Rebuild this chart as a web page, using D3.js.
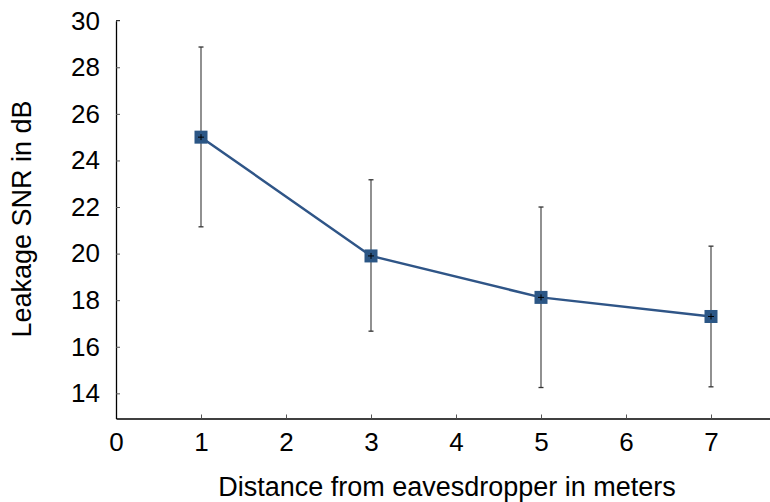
<!DOCTYPE html>
<html>
<head>
<meta charset="utf-8">
<script src="https://cdn.jsdelivr.net/npm/d3@7"></script>
<style>
  body { margin: 0; background: #fff; }
  svg { display: block; font-family: "Liberation Sans", Arial, sans-serif; }
</style>
</head>
<body>
<div class="canvas"></div>
<script>
// distance (m) vs leakage SNR (dB)
const distances = [1, 3, 5, 7];
const snrMean = [25.0, 19.9, 18.12, 17.3];
const snrUpper = [28.87, 23.17, 22.0, 20.32];
const snrLower = [21.15, 16.67, 14.25, 14.28];
const xTicks = [0, 1, 2, 3, 4, 5, 6, 7];
const yTicks = [14, 16, 18, 20, 22, 24, 26, 28, 30];

const width = 770;
const height = 502;

const svg = d3.select('.canvas')
  .append('svg')
  .attr('width', width)
  .attr('height', height);

const x = d3.scaleLinear()
  .domain([0, 7.7])
  .range([116, 770.5]);

const y = d3.scaleLinear()
  .domain([12.92, 30])
  .range([418.5, 20.7]);

const data = distances.map((d, i) => ({
  x: d, mean: snrMean[i], hi: snrUpper[i], lo: snrLower[i]
}));

// axes, ticks point inward
const xAxis = d3.axisBottom(x)
  .tickValues(xTicks)
  .tickSizeInner(-4)
  .tickSizeOuter(0)
  .tickPadding(14);

const yAxis = d3.axisLeft(y)
  .tickValues(yTicks)
  .tickSizeInner(-4)
  .tickSizeOuter(0)
  .tickPadding(16);

const xAxisGroup = svg.append('g')
  .attr('transform', `translate(0, ${y.range()[0]})`)
  .call(xAxis);

const yAxisGroup = svg.append('g')
  .attr('transform', `translate(${x.range()[0]}, 0)`)
  .call(yAxis);

// y axis line stops at top tick, plus a small cap
yAxisGroup.append('line')
  .attr('x1', 0).attr('x2', 4)
  .attr('y1', y(30)).attr('y2', y(30))
  .attr('stroke', '#000');

[xAxisGroup, yAxisGroup].forEach(g => {
  g.select('.domain').attr('stroke', '#000').attr('stroke-width', 1.3);
  g.selectAll('.tick line').attr('stroke', '#555');
  g.selectAll('text')
    .attr('font-size', 26)
    .attr('fill', '#000')
    .attr('font-family', '"Liberation Sans", Arial, sans-serif');
});
xAxisGroup.selectAll('.tick').filter(d => d === 0).select('line').remove();
yAxisGroup.selectAll('.tick').filter(d => d === 30).select('line').remove();

// axis titles
svg.append('text')
  .attr('x', 447)
  .attr('y', 496)
  .attr('text-anchor', 'middle')
  .attr('font-size', 27)
  .text('Distance from eavesdropper in meters');

svg.append('text')
  .attr('transform', `translate(31, 219) rotate(-90)`)
  .attr('text-anchor', 'middle')
  .attr('font-size', 27)
  .text('Leakage SNR in dB');

// error bars
const errs = svg.append('g');
errs.selectAll('line.bar')
  .data(data)
  .enter()
  .append('line')
  .attr('class', 'bar')
  .attr('x1', d => x(d.x)).attr('x2', d => x(d.x))
  .attr('y1', d => y(d.hi)).attr('y2', d => y(d.lo))
  .attr('stroke', '#555')
  .attr('stroke-width', 1.3);

['hi', 'lo'].forEach(k => {
  errs.selectAll(`line.cap-${k}`)
    .data(data)
    .enter()
    .append('line')
    .attr('class', `cap-${k}`)
    .attr('x1', d => x(d.x) - 2.5).attr('x2', d => x(d.x) + 2.5)
    .attr('y1', d => y(d[k])).attr('y2', d => y(d[k]))
    .attr('stroke', '#333')
    .attr('stroke-width', 1.3);
});

// mean line
const line = d3.line()
  .x(d => x(d.x))
  .y(d => y(d.mean));

svg.append('path')
  .datum(data)
  .attr('d', line)
  .attr('fill', 'none')
  .attr('stroke', '#2f5587')
  .attr('stroke-width', 2.5);

// square markers
svg.selectAll('rect.marker')
  .data(data)
  .enter()
  .append('rect')
  .attr('class', 'marker')
  .attr('x', d => x(d.x) - 6.5)
  .attr('y', d => y(d.mean) - 6.5)
  .attr('width', 13)
  .attr('height', 13)
  .attr('fill', '#2b5685');

// small cross at the centre of each marker
const cross = svg.append('g');
cross.selectAll('line.h')
  .data(data)
  .enter()
  .append('line')
  .attr('x1', d => x(d.x) - 3).attr('x2', d => x(d.x) + 3)
  .attr('y1', d => y(d.mean)).attr('y2', d => y(d.mean))
  .attr('stroke', '#000').attr('stroke-width', 1);
cross.selectAll('line.v')
  .data(data)
  .enter()
  .append('line')
  .attr('x1', d => x(d.x)).attr('x2', d => x(d.x))
  .attr('y1', d => y(d.mean) - 3).attr('y2', d => y(d.mean) + 3)
  .attr('stroke', '#000').attr('stroke-width', 1);
</script>
</body>
</html>
